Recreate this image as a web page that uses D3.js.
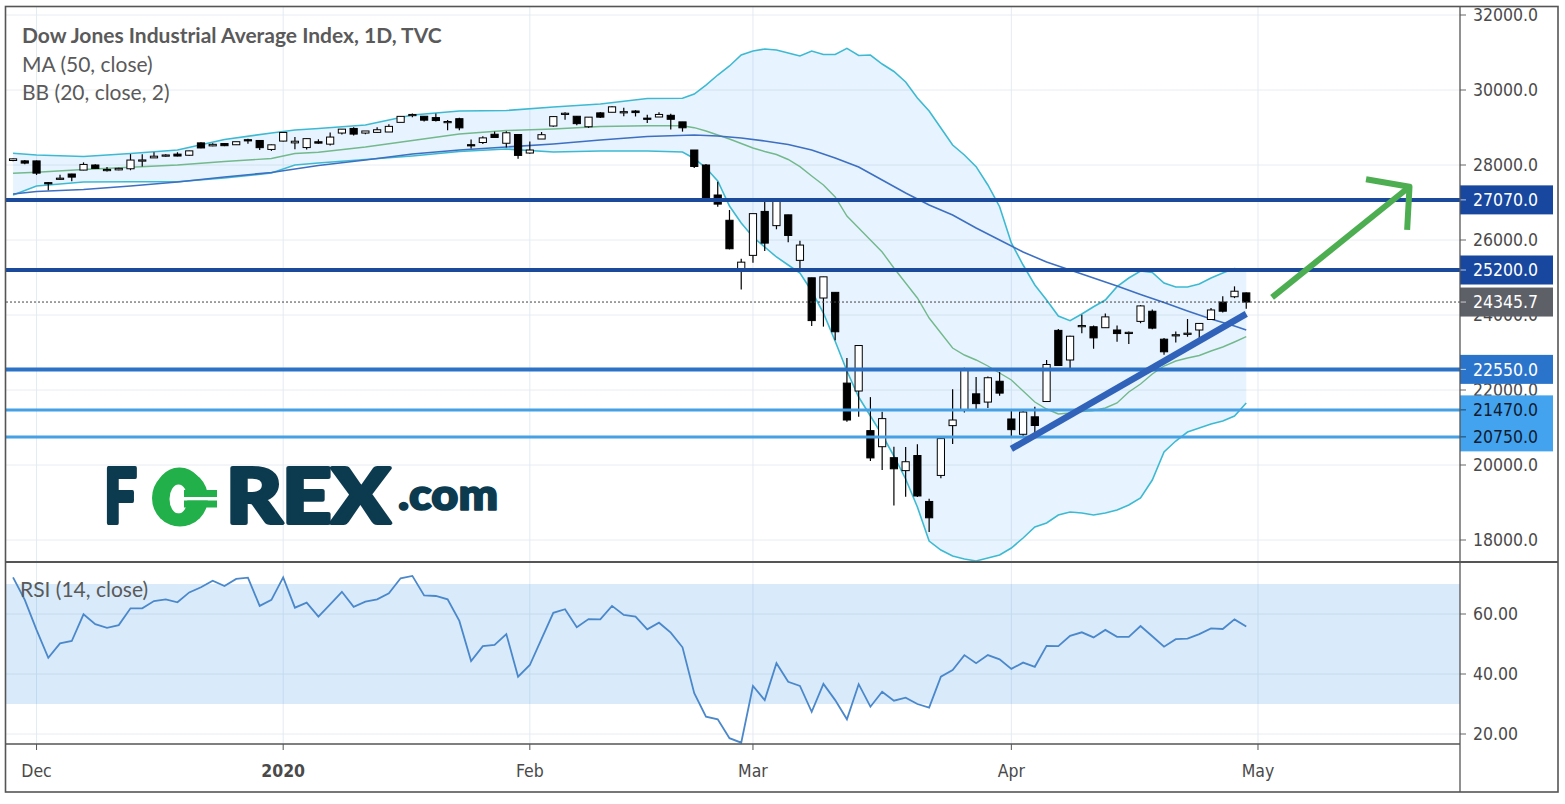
<!DOCTYPE html>
<html lang="en">
<head>
  <meta charset="utf-8"/>
  <title>Dow Jones Industrial Average Index, 1D, TVC</title>
  <script src="https://d3js.org/d3.v7.min.js"></script>
  <style>
    body { margin: 0; background: #fff; }
    svg { display: block; }
    .axlabel { font-family: "DejaVu Sans Condensed", "DejaVu Sans", sans-serif; font-size: 17.5px; fill: #4a4a4a; }
    .legend { font-family: Lato, "Open Sans", sans-serif; fill: #5a5a5a; }
  </style>
</head>
<body>
<svg id="chart" width="1565" height="804"></svg>
<script>
  // daily sessions, 27 Nov 2019 .. 30 Apr 2020
  const dates = [
    "2019-11-27","2019-11-29",
    "2019-12-02","2019-12-03","2019-12-04","2019-12-05","2019-12-06","2019-12-09","2019-12-10","2019-12-11","2019-12-12","2019-12-13",
    "2019-12-16","2019-12-17","2019-12-18","2019-12-19","2019-12-20","2019-12-23","2019-12-24","2019-12-26","2019-12-27","2019-12-30","2019-12-31",
    "2020-01-02","2020-01-03","2020-01-06","2020-01-07","2020-01-08","2020-01-09","2020-01-10","2020-01-13","2020-01-14","2020-01-15","2020-01-16",
    "2020-01-17","2020-01-21","2020-01-22","2020-01-23","2020-01-24","2020-01-27","2020-01-28","2020-01-29","2020-01-30","2020-01-31",
    "2020-02-03","2020-02-04","2020-02-05","2020-02-06","2020-02-07","2020-02-10","2020-02-11","2020-02-12","2020-02-13","2020-02-14",
    "2020-02-18","2020-02-19","2020-02-20","2020-02-21","2020-02-24","2020-02-25","2020-02-26","2020-02-27","2020-02-28",
    "2020-03-02","2020-03-03","2020-03-04","2020-03-05","2020-03-06","2020-03-09","2020-03-10","2020-03-11","2020-03-12","2020-03-13",
    "2020-03-16","2020-03-17","2020-03-18","2020-03-19","2020-03-20","2020-03-23","2020-03-24","2020-03-25","2020-03-26","2020-03-27",
    "2020-03-30","2020-03-31",
    "2020-04-01","2020-04-02","2020-04-03","2020-04-06","2020-04-07","2020-04-08","2020-04-09","2020-04-13","2020-04-14","2020-04-15",
    "2020-04-16","2020-04-17","2020-04-20","2020-04-21","2020-04-22","2020-04-23","2020-04-24","2020-04-27","2020-04-28","2020-04-29","2020-04-30"
  ];
  const open = [
    28120,28110,
    28109,27530,27640,27760,27865,28000,27880,27870,27900,28130,
    28190,28240,28290,28260,28590,28510,28572,28540,28675,28654,28415,
    28638,28590,28465,28620,28556,28852,28975,28852,28870,28880,29137,
    29316,29300,29264,29160,29235,28542,28600,28820,28580,28813,
    28319,28693,29040,29370,29300,29020,29390,29406,29390,29440,
    29250,29280,29325,29150,28400,28000,27200,26526,25229,
    25590,26762,26383,26671,25457,24992,24453,24604,22184,21973,
    20917,20488,20195,19850,20253,19028,19722,21050,21468,21898,
    21678,22233,
    21227,20819,21285,21693,23590,22800,23700,23687,23661,23600,
    23530,23830,24100,23355,23450,23500,23600,23880,24345,24487,24590
  ];
  const high = [
    28175,28134,
    28120,27545,27740,27770,28070,28020,27950,27925,28290,28290,
    28337,28290,28340,28380,28608,28582,28576,28621,28701,28666,28547,
    28872,28749,28708,28685,28866,28958,29010,28907,29010,29088,29300,
    29374,29300,29373,29200,29260,28681,28770,28891,28897,28813,
    28630,28880,29305,29409,29310,29277,29415,29568,29530,29463,
    29340,29408,29370,29150,28400,28025,27555,26800,25500,
    26706,27093,27102,26671,25980,24992,25020,24604,22853,23186,
    21810,21420,20490,20480,20553,19100,20750,22019,22595,22347,
    22360,22480,
    21470,21450,21555,22800,23627,23450,24008,23720,24040,23720,
    23560,24264,24150,23390,23560,23893,23790,24190,24500,24764,24600
  ];
  const low = [
    28100,28017,
    27735,27325,27600,27570,27860,27900,27830,27860,27860,27960,
    28190,28220,28230,28250,28450,28500,28503,28540,28566,28400,28376,
    28627,28418,28415,28565,28522,28816,28789,28818,28860,28878,29137,
    29272,29160,29163,28930,28930,28440,28560,28729,28464,28170,
    28300,28693,29020,29206,29060,28990,29255,29406,29300,29294,
    29120,29280,28950,28890,27920,27013,26890,25750,24681,
    25391,25706,26286,25943,25235,23706,23690,23328,21154,21285,
    20107,19867,18917,19155,19150,18213,19650,20558,21400,21493,
    21520,21850,
    20735,20735,20863,21693,22640,22563,23514,23100,23660,23286,
    23224,23780,23620,22941,23267,23420,23350,23880,24070,24450,24170
  ];
  const close = [
    28164,28051,
    27783,27502,27649,27677,28015,27909,27881,27911,28132,28135,
    28235,28267,28239,28377,28455,28551,28515,28621,28645,28462,28538,
    28868,28634,28703,28583,28745,28956,28824,28907,28940,29030,29297,
    29348,29196,29186,29160,28990,28535,28723,28734,28859,28256,
    28399,28808,29291,29380,29103,29276,29276,29551,29423,29398,
    29232,29348,29219,28992,27961,27081,26957,25767,25409,
    26703,25917,27091,26121,25865,23851,25018,23553,21200,23186,
    20189,21237,19899,20087,19174,18592,20704,21200,22552,21637,
    22327,21917,
    20943,21413,21053,22680,22654,23434,23719,23390,23950,23505,
    23538,24242,23650,23019,23475,23515,23775,24134,24101,24634,24346
  ];

  // Bollinger Bands (20, close, 2)
  const bbDates = [
    "2019-11-27","2019-12-02","2019-12-06","2019-12-12","2019-12-18","2019-12-24","2019-12-31","2020-01-03","2020-01-07",
    "2020-01-13","2020-01-17","2020-01-24","2020-01-30","2020-02-05","2020-02-11","2020-02-18","2020-02-21",
    "2020-02-24","2020-02-25","2020-02-26","2020-02-27","2020-02-28",
    "2020-03-02","2020-03-03","2020-03-04","2020-03-05","2020-03-06","2020-03-09","2020-03-10","2020-03-11","2020-03-12","2020-03-13",
    "2020-03-16","2020-03-17","2020-03-18","2020-03-19","2020-03-20","2020-03-23","2020-03-24","2020-03-25","2020-03-26","2020-03-27",
    "2020-03-30","2020-03-31",
    "2020-04-01","2020-04-02","2020-04-03","2020-04-06","2020-04-07","2020-04-08","2020-04-09","2020-04-13","2020-04-14","2020-04-15",
    "2020-04-16","2020-04-17","2020-04-20","2020-04-21","2020-04-22","2020-04-23","2020-04-24","2020-04-27","2020-04-28","2020-04-29","2020-04-30"
  ];
  const bbUpper = [
    28312,28267,28227,28307,28400,28680,28853,28933,28973,
    29067,29333,29440,29453,29547,29627,29773,29779,
    29893,30133,30400,30640,30933,
    31040,31093,31067,30987,30907,31040,30947,30947,31112,30920,
    30933,30693,30493,30213,29787,29440,28987,28533,28267,27955,
    27467,26888,
    25920,25333,24800,24400,23973,23848,24027,24221,24400,24755,
    24987,25173,25133,24853,24747,24747,24827,24987,25120,25240,25187
  ];
  const bbBasis = [
    27779,27805,27880,27939,28000,28093,28173,28307,28339,
    28480,28653,28827,28920,28960,29027,29048,29048,
    28995,28907,28800,28693,28573,
    28453,28360,28280,28147,27955,27707,27467,27147,26640,26320,
    26000,25680,25253,24853,24453,23920,23520,23120,22933,22800,
    22640,22453,
    22267,21973,21680,21493,21360,21387,21427,21453,21520,21653,
    21947,22160,22427,22640,22773,22853,22920,23040,23147,23280,23421
  ];
  const bbLower = [
    27200,27440,27547,27555,27555,27653,27787,28000,28053,
    28147,28240,28360,28427,28347,28373,28373,28347,
    28173,27920,27573,26907,26453,
    26080,25813,25547,25333,25120,24640,24053,23300,22507,21813,
    21307,20800,20240,19627,18880,17973,17733,17573,17493,17440,
    17520,17600,
    17787,18053,18347,18453,18667,18747,18720,18667,18720,18800,
    18933,19120,19600,20347,20640,20880,20987,21093,21173,21307,21653
  ];

  // MA (50, close)
  const maDates = [
    "2019-11-27","2019-12-02","2019-12-06","2019-12-12","2019-12-18","2019-12-24","2019-12-31","2020-01-07","2020-01-13",
    "2020-01-17","2020-01-24","2020-01-30","2020-02-05","2020-02-11","2020-02-18","2020-02-24","2020-02-26","2020-02-28",
    "2020-03-03","2020-03-05","2020-03-09","2020-03-11","2020-03-13","2020-03-17","2020-03-19","2020-03-23","2020-03-25",
    "2020-03-27","2020-03-31","2020-04-02","2020-04-06","2020-04-08","2020-04-13","2020-04-15","2020-04-17","2020-04-21",
    "2020-04-23","2020-04-27","2020-04-29","2020-04-30"
  ];
  const ma50 = [
    27227,27293,27347,27440,27547,27680,27800,27987,28133,
    28293,28400,28480,28560,28667,28760,28800,28773,28720,
    28640,28547,28400,28187,27947,27600,27253,26933,26667,
    26320,26000,25680,25413,25200,24987,24773,24547,24333,
    24107,23893,23707,23600
  ];

  // RSI (14, close), one value per session
  const rsi = [
    72.2,64.7,
    54.7,45.4,50.2,51.0,59.9,56.6,55.4,56.3,61.9,61.9,
    64.3,64.9,63.9,67.2,68.9,71.1,69.3,71.7,72.1,62.7,64.7,
    72.2,62.1,63.8,59.1,63.2,67.4,62.4,64.1,64.9,66.9,71.9,
    72.7,66.2,66.0,64.9,57.7,44.3,49.3,49.7,53.3,39.1,
    43.0,51.7,60.4,61.6,55.6,58.3,58.2,62.7,59.7,59.1,
    54.9,57.1,53.8,48.9,33.6,25.8,24.9,18.6,17.1,
    36.0,31.3,43.6,37.4,36.0,27.4,36.7,31.3,24.9,36.6,
    29.1,34.1,31.1,32.1,30.0,28.8,39.1,41.3,46.3,43.6,
    46.3,44.9,
    41.7,43.8,42.4,49.4,49.3,52.7,53.9,52.2,54.7,52.4,
    52.4,56.0,52.6,49.1,51.6,51.8,53.3,55.2,55.0,58.2,55.8
  ];

  const priceTicks = [18000, 20000, 22000, 24000, 26000, 28000, 30000, 32000];
  const rsiTicks = [20, 40, 60];
  const rsiBand = [30, 70];
  const monthTicks = ["2019-12-02", "2020-01-02", "2020-02-03", "2020-03-02", "2020-04-01", "2020-05-01"];
  const monthLabels = ["Dec", "2020", "Feb", "Mar", "Apr", "May"];

  // horizontal levels drawn on the chart
  const levels = [27070, 25200, 22550, 21470, 20750];
  const lastPrice = 24345.7;
  // drawings: [session position, price]
  const trendLine = [[85, 20430], [105, 24030]];
  const arrowShaft = [[107.2, 24470], [118.9, 27420]];
  const arrowHead = [[115.2, 27620], [118.9, 27420], [118.7, 26270]];

  const svg = d3.select("#chart");
  const W = 1565, H = 804;
  const padL = 6, axisX = 1460, padR = 1558;
  const padT = 7, paneSep = 562, timeTop = 744, padB = 792;

  const pos = d => { const i = dates.indexOf(d); return i < 0 ? dates.length : i; };

  const x = d3.scaleLinear().domain([-0.6, 123.2]).range([padL, axisX]);
  const y = d3.scaleLinear().domain([18000, 32000]).range([540, 15]);
  const yr = d3.scaleLinear().domain([20, 60]).range([734, 614]);

  const levelStyle = {
    27070: { line: "#1b4a9b", box: "#17479e", text: "#ffffff", w: 4 },
    25200: { line: "#1b4a9b", box: "#17479e", text: "#ffffff", w: 4 },
    22550: { line: "#2c72c6", box: "#2a74cc", text: "#ffffff", w: 4 },
    21470: { line: "#45a0e4", box: "#44a3ee", text: "#0d1b2e", w: 3 },
    20750: { line: "#45a0e4", box: "#44a3ee", text: "#0d1b2e", w: 3 }
  };

  svg.append("rect").attr("width", W).attr("height", H).attr("fill", "#fff");

  const defs = svg.append("defs");
  defs.append("clipPath").attr("id", "mainClip")
    .append("rect").attr("x", padL).attr("y", padT).attr("width", axisX - padL).attr("height", paneSep - padT);
  defs.append("clipPath").attr("id", "rsiClip")
    .append("rect").attr("x", padL).attr("y", paneSep).attr("width", axisX - padL).attr("height", timeTop - paneSep);

  // grid
  const grid = svg.append("g").attr("stroke", "#e8ecf1").attr("stroke-width", 1);
  grid.selectAll(".hg").data(priceTicks).join("line")
    .attr("x1", padL).attr("x2", axisX).attr("y1", d => y(d)).attr("y2", d => y(d));
  grid.selectAll(".rg").data(rsiTicks).join("line")
    .attr("x1", padL).attr("x2", axisX).attr("y1", d => yr(d)).attr("y2", d => yr(d));
  grid.selectAll(".vg").data(monthTicks).join("line")
    .attr("stroke", "#e3ebf3")
    .attr("x1", d => x(pos(d))).attr("x2", d => x(pos(d))).attr("y1", padT).attr("y2", timeTop);

  // main pane
  const main = svg.append("g").attr("clip-path", "url(#mainClip)");

  const bbRows = bbDates.map((d, i) => ({ p: pos(d), u: bbUpper[i], m: bbBasis[i], l: bbLower[i] }));
  main.append("path").datum(bbRows)
    .attr("fill", "#2196f3").attr("fill-opacity", 0.11)
    .attr("d", d3.area().x(d => x(d.p)).y0(d => y(d.l)).y1(d => y(d.u)));
  main.append("path").datum(bbRows).attr("fill", "none").attr("stroke", "#3dbad2").attr("stroke-width", 1.6)
    .attr("d", d3.line().x(d => x(d.p)).y(d => y(d.u)));
  main.append("path").datum(bbRows).attr("fill", "none").attr("stroke", "#3dbad2").attr("stroke-width", 1.6)
    .attr("d", d3.line().x(d => x(d.p)).y(d => y(d.l)));
  main.append("path").datum(bbRows).attr("fill", "none").attr("stroke", "#72b98c").attr("stroke-width", 1.4)
    .attr("d", d3.line().x(d => x(d.p)).y(d => y(d.m)));
  main.append("path").datum(maDates.map((d, i) => [pos(d), ma50[i]]))
    .attr("fill", "none").attr("stroke", "#3d6fc2").attr("stroke-width", 1.6)
    .attr("d", d3.line().x(d => x(d[0])).y(d => y(d[1])));

  // candles
  const bars = dates.map((d, i) => ({ p: i, o: open[i], h: high[i], l: low[i], c: close[i] }));
  const candle = main.append("g").selectAll("g").data(bars).join("g");
  candle.append("line")
    .attr("x1", d => x(d.p)).attr("x2", d => x(d.p))
    .attr("y1", d => y(d.h)).attr("y2", d => y(d.l))
    .attr("stroke", "#000").attr("stroke-width", 1.2);
  candle.append("rect")
    .attr("x", d => x(d.p) - 3.6).attr("width", 7.2)
    .attr("y", d => y(Math.max(d.o, d.c)))
    .attr("height", d => Math.max(1.2, Math.abs(y(d.o) - y(d.c))))
    .attr("fill", d => d.c < d.o ? "#000" : "#fff")
    .attr("stroke", "#000").attr("stroke-width", 1);

  // horizontal levels
  main.selectAll(".lvl").data(levels).join("line")
    .attr("x1", padL).attr("x2", axisX)
    .attr("y1", d => y(d)).attr("y2", d => y(d))
    .attr("stroke", d => levelStyle[d].line).attr("stroke-width", d => levelStyle[d].w);

  main.append("line")
    .attr("x1", padL).attr("x2", axisX).attr("y1", y(lastPrice)).attr("y2", y(lastPrice))
    .attr("stroke", "#444").attr("stroke-width", 1).attr("stroke-dasharray", "2,2");

  // trend line and arrow
  main.append("line")
    .attr("x1", x(trendLine[0][0])).attr("y1", y(trendLine[0][1]))
    .attr("x2", x(trendLine[1][0])).attr("y2", y(trendLine[1][1]))
    .attr("stroke", "#2f62b8").attr("stroke-width", 6.5);
  main.append("path").datum(arrowShaft)
    .attr("fill", "none").attr("stroke", "#4cae50").attr("stroke-width", 6)
    .attr("d", d3.line().x(d => x(d[0])).y(d => y(d[1])));
  main.append("path").datum(arrowHead)
    .attr("fill", "none").attr("stroke", "#4cae50").attr("stroke-width", 6)
    .attr("stroke-linejoin", "round")
    .attr("d", d3.line().x(d => x(d[0])).y(d => y(d[1])));

  // legend
  svg.append("text").attr("class", "legend").attr("x", 22).attr("y", 43)
    .attr("font-size", 21).attr("font-weight", 700).attr("fill", "#505050")
    .text("Dow Jones Industrial Average Index, 1D, TVC");
  svg.append("text").attr("class", "legend").attr("x", 22).attr("y", 72)
    .attr("font-size", 21).text("MA (50, close)");
  svg.append("text").attr("class", "legend").attr("x", 22).attr("y", 100)
    .attr("font-size", 21).text("BB (20, close, 2)");

  // FOREX.com logo
  const ink = "#0c3b4f", green = "#22b04b";
  const logo = svg.append("g").attr("font-family", "Lato, 'Open Sans', sans-serif").attr("font-weight", 900)
    .attr("stroke-linejoin", "round");
  logo.append("text").attr("x", 104).attr("y", 523).attr("font-size", 76).attr("fill", ink)
    .attr("stroke", ink).attr("stroke-width", 4)
    .attr("textLength", 33).attr("lengthAdjust", "spacingAndGlyphs").text("F");
  logo.append("ellipse").attr("cx", 180).attr("cy", 498).attr("rx", 28).attr("ry", 28.5).attr("fill", green);
  logo.append("ellipse").attr("cx", 178.5).attr("cy", 499).attr("rx", 9).attr("ry", 14.5).attr("fill", "#fff");
  logo.append("text").attr("x", 153).attr("y", 523).attr("font-size", 76).attr("fill", green)
    .attr("textLength", 53).attr("lengthAdjust", "spacingAndGlyphs").text("O");
  logo.append("rect").attr("x", 184).attr("y", 497).attr("width", 25).attr("height", 3.5).attr("fill", "#fff");
  logo.append("rect").attr("x", 184).attr("y", 490).attr("width", 33).attr("height", 7).attr("fill", green);
  logo.append("rect").attr("x", 184).attr("y", 500.5).attr("width", 33).attr("height", 7).attr("fill", green);
  logo.append("text").attr("x", 226).attr("y", 523).attr("font-size", 76).attr("fill", ink)
    .attr("stroke", ink).attr("stroke-width", 4)
    .attr("textLength", 164).attr("lengthAdjust", "spacingAndGlyphs").text("REX");
  logo.append("text").attr("x", 398).attr("y", 510).attr("font-size", 44).attr("font-weight", 800).attr("fill", ink)
    .attr("stroke", ink).attr("stroke-width", 1.5)
    .attr("textLength", 100).attr("lengthAdjust", "spacingAndGlyphs").text(".com");

  // RSI pane
  const rp = svg.append("g").attr("clip-path", "url(#rsiClip)");
  rp.append("rect")
    .attr("x", padL).attr("width", axisX - padL)
    .attr("y", yr(rsiBand[1])).attr("height", yr(rsiBand[0]) - yr(rsiBand[1]))
    .attr("fill", "#2f8fe6").attr("fill-opacity", 0.18);
  rp.append("path").datum(rsi)
    .attr("fill", "none").attr("stroke", "#4b88cb").attr("stroke-width", 1.8)
    .attr("d", d3.line().x((d, i) => x(i)).y(d => yr(d)));
  svg.append("text").attr("class", "legend").attr("x", 20).attr("y", 597)
    .attr("font-size", 21).attr("fill", "#666").text("RSI (14, close)");

  // price axis
  const pa = svg.append("g");
  pa.selectAll("line").data(priceTicks).join("line")
    .attr("x1", axisX).attr("x2", axisX + 6).attr("y1", d => y(d)).attr("y2", d => y(d))
    .attr("stroke", "#666");
  pa.selectAll("text").data(priceTicks).join("text")
    .attr("class", "axlabel").attr("x", 1473).attr("y", d => y(d)).attr("dy", "0.36em")
    .text(d => d3.format(".1f")(d));

  const ra = svg.append("g");
  ra.selectAll("line").data(rsiTicks).join("line")
    .attr("x1", axisX).attr("x2", axisX + 6).attr("y1", d => yr(d)).attr("y2", d => yr(d))
    .attr("stroke", "#666");
  ra.selectAll("text").data(rsiTicks).join("text")
    .attr("class", "axlabel").attr("x", 1473).attr("y", d => yr(d)).attr("dy", "0.36em")
    .text(d => d3.format(".2f")(d));

  // level labels on the axis
  const tags = svg.append("g");
  const tagRows = levels.map(v => ({ v: v, s: levelStyle[v] }))
    .concat([{ v: lastPrice, s: { box: "#5e6068", text: "#ffffff" } }]);
  tags.selectAll("rect").data(tagRows).join("rect")
    .attr("x", axisX).attr("width", 93).attr("y", d => y(d.v) - 14.5).attr("height", 29)
    .attr("fill", d => d.s.box);
  tags.selectAll("line").data(tagRows).join("line")
    .attr("x1", axisX).attr("x2", axisX + 6).attr("y1", d => y(d.v)).attr("y2", d => y(d.v))
    .attr("stroke", d => d.s.text).attr("stroke-opacity", 0.7);
  tags.selectAll("text").data(tagRows).join("text")
    .attr("class", "axlabel").attr("x", 1473).attr("y", d => y(d.v)).attr("dy", "0.36em")
    .style("fill", d => d.s.text)
    .text(d => d3.format(".1f")(d.v));

  // time axis
  const ta = svg.append("g");
  ta.selectAll("line").data(monthTicks).join("line")
    .attr("x1", d => x(pos(d))).attr("x2", d => x(pos(d))).attr("y1", timeTop).attr("y2", timeTop + 6)
    .attr("stroke", "#555");
  ta.selectAll("text").data(monthLabels).join("text")
    .attr("class", "axlabel").attr("text-anchor", "middle")
    .attr("x", (d, i) => x(pos(monthTicks[i]))).attr("y", 771).attr("dy", "0.36em")
    .attr("font-weight", d => d === "2020" ? 700 : 400)
    .text(d => d);

  // frame
  const frame = svg.append("g").attr("stroke", "#555").attr("fill", "none");
  frame.append("rect").attr("x", 5.5).attr("y", 6.5).attr("width", padR - 5.5).attr("height", padB - 6.5).attr("stroke-width", 1.6);
  frame.append("line").attr("x1", axisX).attr("x2", axisX).attr("y1", padT).attr("y2", padB).attr("stroke-width", 1.3);
  frame.append("line").attr("x1", 5.5).attr("x2", padR).attr("y1", paneSep).attr("y2", paneSep).attr("stroke-width", 1.8);
  frame.append("line").attr("x1", 5.5).attr("x2", axisX).attr("y1", timeTop).attr("y2", timeTop).attr("stroke-width", 1.3);
</script>
</body>
</html>
